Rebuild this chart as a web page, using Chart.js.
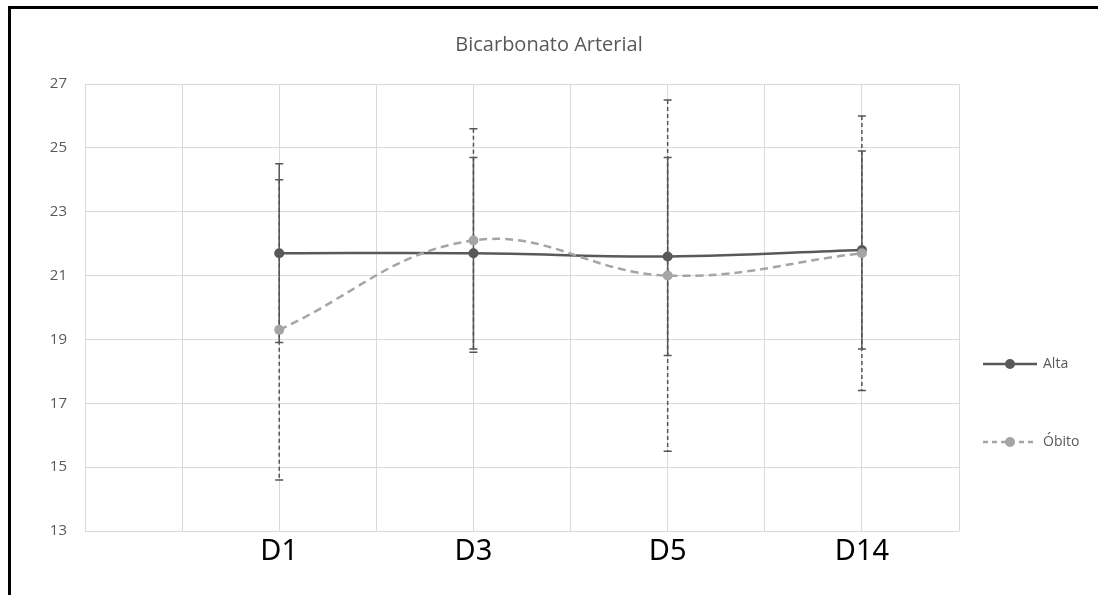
<!DOCTYPE html>
<html>
<head>
<meta charset="utf-8">
<script src="https://cdn.jsdelivr.net/npm/chart.js@4.4.1/dist/chart.umd.min.js"></script>
<style>
    body { margin: 0; background: #fff; }
    #wrap { position: relative; width: 1098px; height: 595px; }
    #frame {
        position: absolute; left: 8px; top: 6px; right: 0; bottom: 0;
        border-top: 3px solid #000; border-left: 3px solid #000;
        pointer-events: none;
    }
</style>
</head>
<body>
<div id="wrap">
    <canvas id="chart" width="1098" height="595"></canvas>
    <div id="frame"></div>
</div>
<script>
const chartTitle = "Bicarbonato Arterial";
const categories = ["D1", "D3", "D5", "D14"];
const yTicks = [13, 15, 17, 19, 21, 23, 25, 27];

const altaMean = [21.7, 21.7, 21.6, 21.8];
const altaHigh = [24.5, 24.7, 24.7, 24.9];
const altaLow = [18.9, 18.7, 18.5, 18.7];

const obitoMean = [19.3, 22.1, 21.0, 21.7];
const obitoHigh = [24.0, 25.6, 26.5, 26.0];
const obitoLow = [14.6, 18.6, 15.5, 17.4];

// category slots: two empty ones before D1, one empty between/after the rest
const slots = ["", ""];
categories.forEach((c) => slots.push(c, ""));
const slotOf = (i) => 2 + i * 2;

const spread = (values) => {
    const out = slots.map(() => null);
    values.forEach((v, i) => { out[slotOf(i)] = v; });
    return out;
};

const series = [
    { label: "Alta", mean: altaMean, high: altaHigh, low: altaLow, color: "#595959", dash: [] },
    { label: "Óbito", mean: obitoMean, high: obitoHigh, low: obitoLow, color: "#A5A5A5", dash: [8, 5] },
];

const errorBars = {
    id: "errorBars",
    beforeDatasetsDraw(chart) {
        const { ctx, scales: { x, y } } = chart;
        // dashed Óbito bars first, solid Alta ones over them
        [1, 0].forEach((k) => {
            const s = series[k];
            const dash = k === 1 ? [4, 3] : [];
            ctx.save();
            ctx.strokeStyle = "#555555";
            ctx.lineWidth = 1.5;
            s.mean.forEach((m, i) => {
                const px = x.getPixelForValue(slotOf(i));
                const top = y.getPixelForValue(s.high[i]);
                const bot = y.getPixelForValue(s.low[i]);
                ctx.setLineDash(dash);
                ctx.beginPath();
                ctx.moveTo(px, top);
                ctx.lineTo(px, bot);
                ctx.stroke();
                ctx.setLineDash([]);
                ctx.beginPath();
                ctx.moveTo(px - 4, top);
                ctx.lineTo(px + 4, top);
                ctx.moveTo(px - 4, bot);
                ctx.lineTo(px + 4, bot);
                ctx.stroke();
            });
            ctx.restore();
        });
    },
};

const extras = {
    id: "extras",
    afterDraw(chart) {
        const { ctx } = chart;
        ctx.save();
        ctx.fillStyle = "#595959";
        ctx.font = "20px 'Open Sans'";
        ctx.textAlign = "center";
        ctx.textBaseline = "middle";
        ctx.fillText(chartTitle, chart.width / 2, 45);
        ctx.restore();

        const rows = [364, 442];
        series.forEach((s, i) => {
            const yy = rows[i];
            ctx.save();
            ctx.strokeStyle = s.color;
            ctx.lineWidth = 2.5;
            ctx.setLineDash(i === 1 ? [5, 4] : []);
            ctx.beginPath();
            ctx.moveTo(983, yy);
            ctx.lineTo(1037, yy);
            ctx.stroke();
            ctx.setLineDash([]);
            ctx.fillStyle = s.color;
            ctx.beginPath();
            ctx.arc(1010, yy, 5, 0, Math.PI * 2);
            ctx.fill();
            ctx.fillStyle = "#595959";
            ctx.font = "14px 'Open Sans'";
            ctx.textBaseline = "middle";
            ctx.fillText(s.label, 1043, yy);
            ctx.restore();
        });
    },
};

new Chart(document.getElementById("chart"), {
    type: "line",
    data: {
        labels: slots,
        datasets: series.map((s) => ({
            label: s.label,
            data: spread(s.mean),
            borderColor: s.color,
            backgroundColor: s.color,
            borderWidth: 2.5,
            borderDash: s.dash,
            pointRadius: 5,
            pointBorderWidth: 0,
            pointBackgroundColor: s.color,
            spanGaps: true,
            tension: 0.4,
        })).reverse(),
    },
    options: {
        responsive: false,
        animation: false,
        layout: { padding: { left: 0, right: 139, top: 84, bottom: 0 } },
        plugins: {
            legend: { display: false },
            tooltip: { enabled: false },
            title: { display: false },
        },
        scales: {
            x: {
                offset: false,
                grid: { color: "#D9D9D9", drawTicks: false },
                border: { display: false },
                ticks: {
                    autoSkip: false,
                    maxRotation: 0,
                    padding: 3,
                    color: "#000",
                    font: { family: "'Noto Sans'", size: 29 },
                },
                afterFit: (s) => { s.height = 64; },
            },
            y: {
                min: yTicks[0],
                max: yTicks[yTicks.length - 1],
                afterBuildTicks: (s) => { s.ticks = yTicks.map((v) => ({ value: v })); },
                grid: { color: "#D9D9D9", drawTicks: false },
                border: { display: false },
                ticks: {
                    padding: 18,
                    color: "#595959",
                    font: { family: "'Open Sans'", size: 15 },
                },
                afterFit: (s) => { s.width = 85; },
            },
        },
    },
    plugins: [errorBars, extras],
});
</script>
</body>
</html>
